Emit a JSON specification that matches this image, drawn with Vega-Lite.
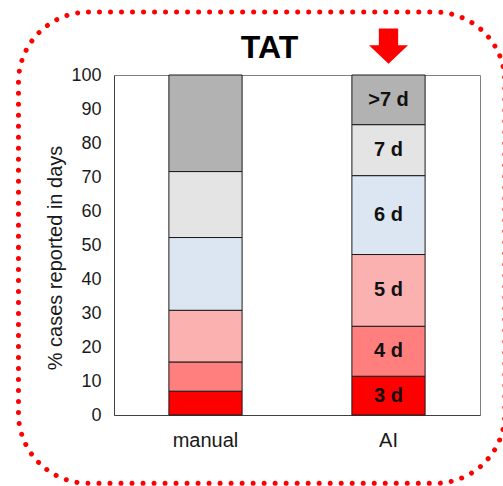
{
  "$schema": "https://vega.github.io/schema/vega-lite/v6.json",
  "width": 366,
  "height": 340,
  "autosize": {"type": "none"},
  "padding": {"left": 114, "top": 75, "right": 23, "bottom": 71},
  "background": "white",
  "title": {
    "text": "TAT",
    "font": "Liberation Sans",
    "fontSize": 32,
    "fontWeight": "bold",
    "color": "#000000",
    "anchor": "middle",
    "frame": "group",
    "baseline": "alphabetic",
    "offset": -80,
    "dx": -27.5
  },
  "layer": [
    {
      "description": "Dotted rounded frame around the whole figure",
      "data": {"values": [{"left": -0.261, "right": 1.068, "bottom": -20.1, "top": 118.5}]},
      "mark": {
        "type": "rect",
        "filled": false,
        "stroke": "#FF0000",
        "strokeWidth": 5,
        "strokeDash": [0.01, 11],
        "strokeCap": "round",
        "cornerRadius": 70
      },
      "encoding": {
        "x": {"field": "left", "type": "quantitative", "scale": {"domain": [0, 1], "nice": false, "zero": false}, "axis": null},
        "x2": {"field": "right"},
        "y": {"field": "bottom", "type": "quantitative", "scale": {"domain": [0, 100], "nice": false, "zero": false}, "axis": null},
        "y2": {"field": "top"}
      }
    },
    {
      "encoding": {
        "x": {
          "field": "method",
          "type": "nominal",
          "scale": {"domain": ["manual", "AI"], "paddingInner": 0.6, "paddingOuter": 0.3},
          "axis": {
            "title": null,
            "ticks": false,
            "labelAngle": 0,
            "labelFont": "Liberation Sans",
            "labelFontSize": 20,
            "labelColor": "#1a1a1a",
            "labelPadding": 15,
            "domainColor": "#404040",
            "grid": false
          }
        }
      },
      "layer": [
        {
          "data": {"values": [
            {"method": "manual", "days": "3 d", "rank": 1, "pct": 7.0},
            {"method": "manual", "days": "4 d", "rank": 2, "pct": 8.6},
            {"method": "manual", "days": "5 d", "rank": 3, "pct": 15.2},
            {"method": "manual", "days": "6 d", "rank": 4, "pct": 21.4},
            {"method": "manual", "days": "7 d", "rank": 5, "pct": 19.4},
            {"method": "manual", "days": ">7 d", "rank": 6, "pct": 28.4},
            {"method": "AI", "days": "3 d", "rank": 1, "pct": 11.4},
            {"method": "AI", "days": "4 d", "rank": 2, "pct": 14.7},
            {"method": "AI", "days": "5 d", "rank": 3, "pct": 21.1},
            {"method": "AI", "days": "6 d", "rank": 4, "pct": 23.2},
            {"method": "AI", "days": "7 d", "rank": 5, "pct": 15.0},
            {"method": "AI", "days": ">7 d", "rank": 6, "pct": 14.6}
          ]},
          "layer": [
            {
              "mark": {"type": "bar", "stroke": "#1a1a1a", "strokeWidth": 1},
              "encoding": {
                "y": {
                  "field": "pct",
                  "type": "quantitative",
                  "stack": "zero",
                  "title": "% cases reported in days",
                  "scale": {"domain": [0, 100], "nice": false},
                  "axis": {
                    "values": [0, 10, 20, 30, 40, 50, 60, 70, 80, 90, 100],
                    "ticks": false,
                    "grid": false,
                    "labelFlush": false,
                    "labelOverlap": false,
                    "labelFont": "Liberation Sans",
                    "labelFontSize": 18,
                    "labelColor": "#1a1a1a",
                    "labelPadding": 13,
                    "domainColor": "#404040",
                    "titleFont": "Liberation Sans",
                    "titleFontSize": 20,
                    "titleFontWeight": "normal",
                    "titleColor": "#1a1a1a",
                    "titlePadding": 5,
                    "titleY": 182.5
                  }
                },
                "color": {
                  "field": "days",
                  "type": "nominal",
                  "scale": {
                    "domain": ["3 d", "4 d", "5 d", "6 d", "7 d", ">7 d"],
                    "range": ["#FF0000", "#FF7F7F", "#FCB1B1", "#DCE6F2", "#E4E4E4", "#B2B2B2"]
                  },
                  "legend": null
                },
                "order": {"field": "rank", "type": "quantitative", "sort": "ascending"}
              }
            },
            {
              "transform": [{"filter": {"field": "method", "equal": "AI"}}],
              "mark": {
                "type": "text",
                "font": "Liberation Sans",
                "fontSize": 20,
                "fontWeight": "bold",
                "color": "#111111",
                "baseline": "middle",
                "align": "center"
              },
              "encoding": {
                "y": {
                  "field": "pct",
                  "type": "quantitative",
                  "stack": "zero",
                  "bandPosition": 0.5,
                  "title": "% cases reported in days",
                  "axis": {
                    "values": [0, 10, 20, 30, 40, 50, 60, 70, 80, 90, 100],
                    "ticks": false,
                    "grid": false,
                    "labelFlush": false,
                    "labelOverlap": false,
                    "labelFont": "Liberation Sans",
                    "labelFontSize": 18,
                    "labelColor": "#1a1a1a",
                    "labelPadding": 13,
                    "domainColor": "#404040",
                    "titleFont": "Liberation Sans",
                    "titleFontSize": 20,
                    "titleFontWeight": "normal",
                    "titleColor": "#1a1a1a",
                    "titlePadding": 5,
                    "titleY": 182.5
                  }
                },
                "detail": {"field": "days"},
                "order": {"field": "rank", "type": "quantitative", "sort": "ascending"},
                "text": {"field": "days"}
              }
            }
          ]
        },
        {
          "description": "Red arrow pointing at the AI bar",
          "data": {"values": [{"method": "AI", "pos": 108.5}]},
          "mark": {
            "type": "point",
            "shape": "M-0.495,-0.9L0.495,-0.9L0.495,-0.04L1,-0.04L0,0.9L-1,-0.04L-0.495,-0.04Z",
            "filled": true,
            "fill": "#FF0000",
            "opacity": 1,
            "strokeWidth": 0,
            "size": 1521
          },
          "encoding": {
            "y": {
              "field": "pos",
              "type": "quantitative",
              "title": "% cases reported in days",
              "scale": {"domain": [0, 100], "nice": false},
              "axis": {
                "values": [0, 10, 20, 30, 40, 50, 60, 70, 80, 90, 100],
                "ticks": false,
                "grid": false,
                "labelFlush": false,
                "labelOverlap": false,
                "labelFont": "Liberation Sans",
                "labelFontSize": 18,
                "labelColor": "#1a1a1a",
                "labelPadding": 13,
                "domainColor": "#404040",
                "titleFont": "Liberation Sans",
                "titleFontSize": 20,
                "titleFontWeight": "normal",
                "titleColor": "#1a1a1a",
                "titlePadding": 5,
                "titleY": 182.5
              }
            }
          }
        }
      ]
    }
  ],
  "resolve": {"scale": {"x": "independent", "y": "independent"}},
  "config": {
    "font": "Liberation Sans",
    "view": {"stroke": "#808080", "strokeWidth": 1}
  }
}
